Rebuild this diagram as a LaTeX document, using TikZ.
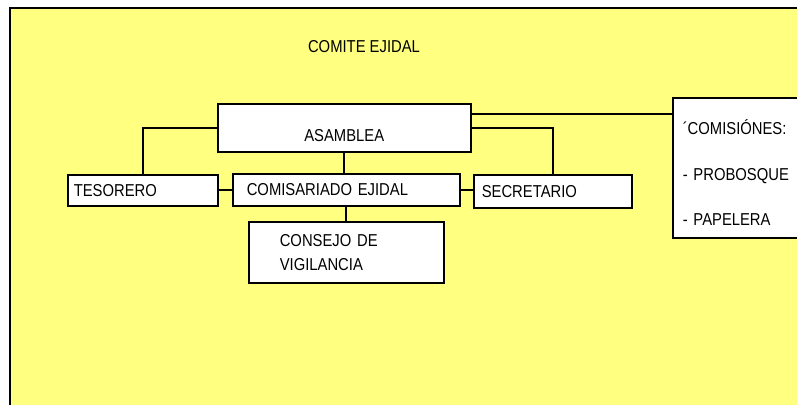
\documentclass[tikz,border=0pt]{standalone}
\usepackage{fontspec}
\setmainfont{Liberation Sans}[FakeStretch=0.86]
\usetikzlibrary{positioning}
\definecolor{fondo}{RGB}{255,255,128}
\newcommand\lbl{\fontsize{9.8}{11}\selectfont}

\begin{document}
\begin{tikzpicture}[x = 0.02cm, y = -0.02cm,
 caja/.style = {draw, fill = white, line width = 0.9pt, anchor = north west, inner sep = 0pt, align = left, font = \lbl},
 linea/.style = {line width = 0.9pt}]
 \useasboundingbox (0,0) rectangle (797,405);
 \clip (0,0) rectangle (797,405);
 \fill[white] (0,0) rectangle (797,405);
 \draw[fill = fondo, line width = 0.7pt] (10,8) rectangle (820,420);%fondo amarillo
 \node[font = \lbl] (titulo) at (364,47) {COMITE EJIDAL};
 \node[caja, minimum width = 5.06cm, minimum height = 0.96cm] (asamblea) at (217,103) {};
 \node[font = \lbl] (asambleaT) at ([yshift = -0.16cm]asamblea.center) {ASAMBLEA};
 \node[caja, minimum width = 3cm, minimum height = 0.62cm, text width = 2.76cm] (tesorero) at (67,174) {TESORERO};
 \node[caja, minimum width = 4.54cm, minimum height = 0.64cm, text width = 3.98cm] (comisariado) at (232,173) {COMISARIADO EJIDAL};
 \node[caja, minimum width = 3.16cm, minimum height = 0.66cm, text width = 2.84cm] (secretario) at (473,174) {SECRETARIO};
 \node[caja, minimum width = 3.9cm, minimum height = 1.22cm, text width = 2.66cm, font = \fontsize{9.8}{13.6}\selectfont] (consejo) at (248,221) {CONSEJO DE\\VIGILANCIA};
 \node[caja, minimum width = 2.8cm, minimum height = 2.8cm, text width = 2.4cm, text height = 0.5cm, font = \fontsize{9.8}{25.8}\selectfont] (comisiones) at (672,97) {´COMISIÓNES:\\- PROBOSQUE\\- PAPELERA};
 %conexiones
 \draw[linea] (asamblea.west) -| (tesorero.north);
 \draw[linea] (asamblea.south) -- (asamblea.south |- comisariado.north);
 \draw[linea] (tesorero.east) -- (tesorero.east -| comisariado.west);
 \draw[linea] (comisariado.east) -- (comisariado.east -| secretario.west);
 \draw[linea] (asamblea.east) -| (secretario.north);
 \draw[linea] ([yshift = 0.28cm]asamblea.east) -- ([yshift = 0.28cm]asamblea.east -| comisiones.west);
 \draw[linea] (comisariado.south) -- (comisariado.south |- consejo.north);
\end{tikzpicture}
\end{document}
